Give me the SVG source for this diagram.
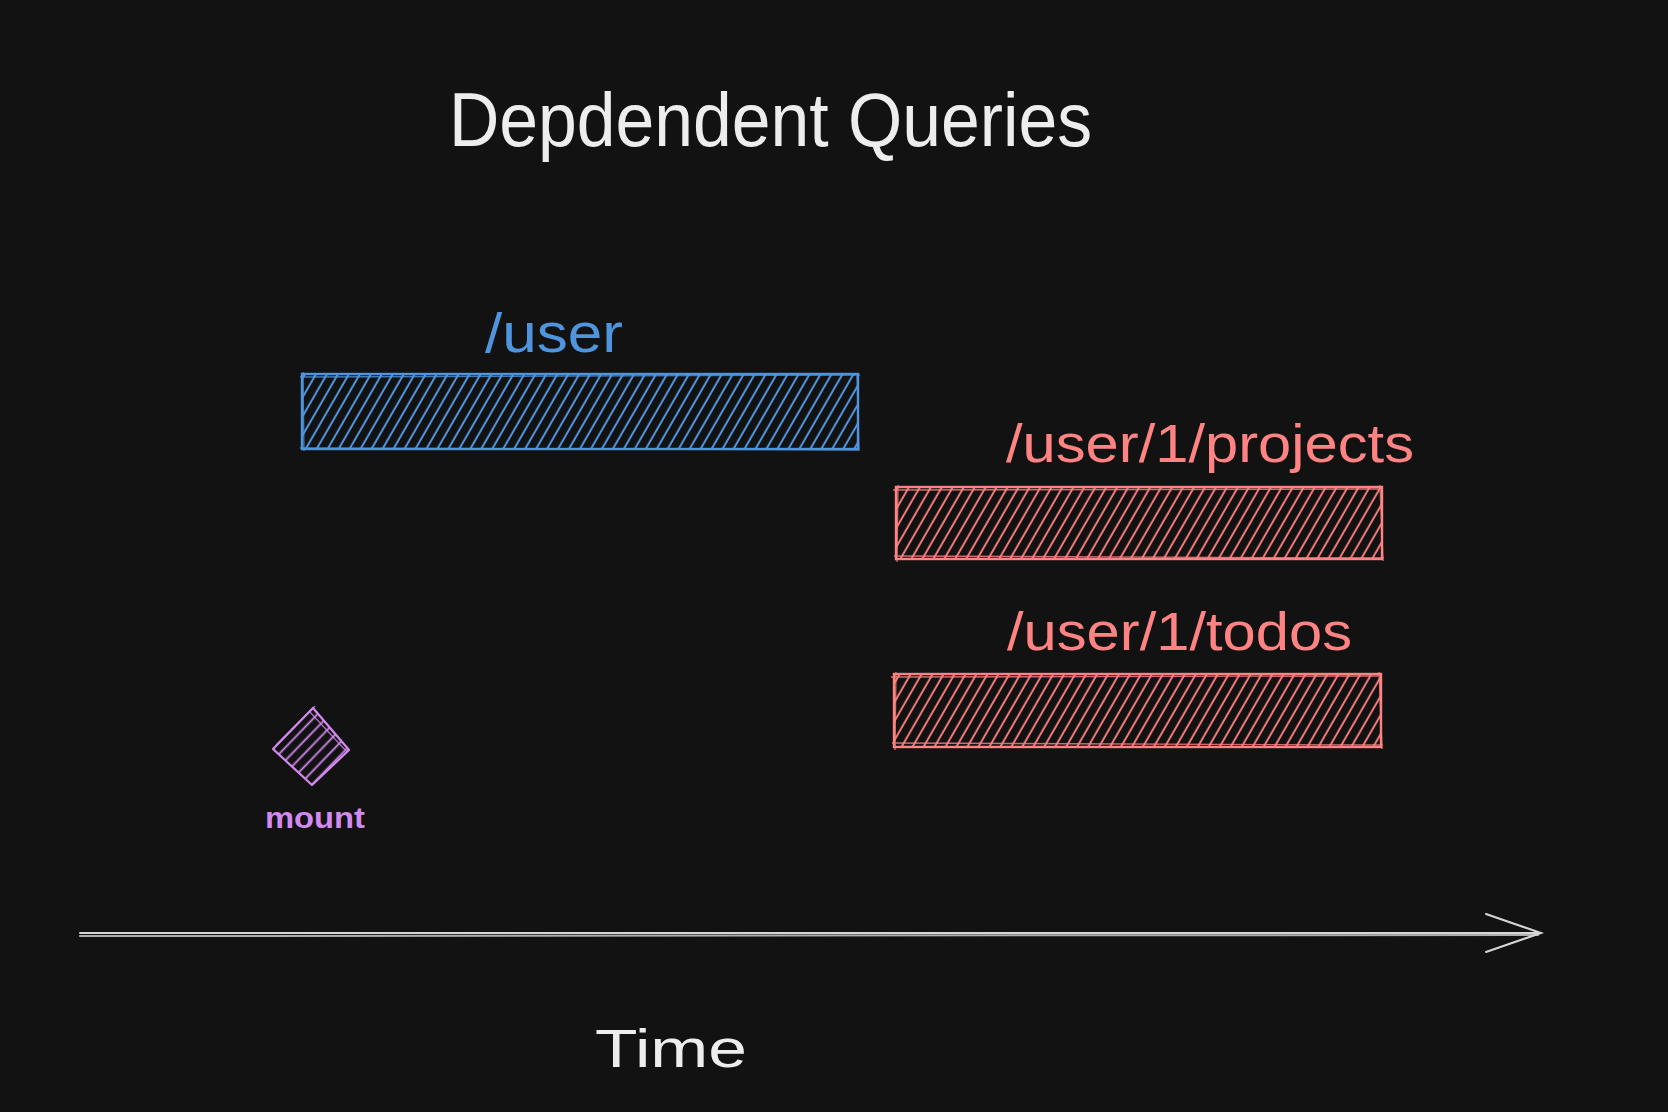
<svg xmlns="http://www.w3.org/2000/svg" width="1668" height="1112" viewBox="0 0 1668 1112">
  <style>
    .txt { font-family: "Liberation Sans", "Open Sans", sans-serif; }
    .title { fill: #ededed; font-size: 76px; }
    .blue-t { fill: #4f95dd; font-size: 56px; }
    .red-t { fill: #ff8383; font-size: 54px; }
    .purple-t { fill: #d38aee; font-size: 29px; font-weight: bold; }
    .time { fill: #ededed; font-size: 54px; }
    .blue-box { fill: url(#hatchBlue); stroke: #4f95dd; stroke-width: 2.4; }
    .red-box { fill: url(#hatchRed); stroke: #ff8383; stroke-width: 2.4; }
    .blue-sk { fill: none; stroke: #4f95dd; stroke-width: 1.3; opacity: 0.8; }
    .red-sk { fill: none; stroke: #ff8383; stroke-width: 1.3; opacity: 0.8; }
    .axis { fill: none; stroke: #d6d6d6; stroke-width: 2; stroke-linecap: round; }
  </style>
  <defs>
    <pattern id="hatchBlue" patternUnits="userSpaceOnUse" width="9.5" height="12" patternTransform="rotate(30)">
      <line x1="4.7" y1="0" x2="4.7" y2="12" stroke="#4f95dd" stroke-width="2"/>
    </pattern>
    <pattern id="hatchRed" patternUnits="userSpaceOnUse" width="9.5" height="12" patternTransform="rotate(30)">
      <line x1="4.7" y1="0" x2="4.7" y2="12" stroke="#f07878" stroke-width="2"/>
    </pattern>
    <pattern id="hatchPurple" patternUnits="userSpaceOnUse" width="9" height="12" patternTransform="rotate(44)">
      <line x1="4.5" y1="0" x2="4.5" y2="12" stroke="#d38aee" stroke-width="1.8"/>
    </pattern>
  </defs>
  <rect width="1668" height="1112" fill="#121212"/>

  <g id="title">
    <text class="txt title" x="449" y="146" textLength="643" lengthAdjust="spacingAndGlyphs">Depdendent Queries</text>
  </g>

  <g id="user">
    <text class="txt blue-t" x="485" y="352" textLength="138" lengthAdjust="spacingAndGlyphs">/user</text>
    <rect class="blue-box" x="302" y="374" width="556" height="75"/>
    <path class="blue-sk" d="M300 377 L860 375 M303 372 L304 451 M300 448 L859 450 M857 373 L859 451"/>
  </g>

  <g id="projects">
    <text class="txt red-t" x="1006" y="462" textLength="408" lengthAdjust="spacingAndGlyphs">/user/1/projects</text>
    <rect class="red-box" x="896" y="487" width="486" height="72"/>
    <path class="red-sk" d="M893 490 L1383 489 M898 485 L897 562 M894 556 L1384 558 M1380 485 L1383 561"/>
  </g>

  <g id="todos">
    <text class="txt red-t" x="1007" y="650" textLength="345" lengthAdjust="spacingAndGlyphs">/user/1/todos</text>
    <rect class="red-box" x="894" y="674" width="487" height="73"/>
    <path class="red-sk" d="M891 677 L1382 676 M896 672 L895 750 M892 743 L1383 745 M1379 672 L1382 749"/>
  </g>

  <g id="mount">
    <polygon points="313,708 349,750 312,785 273,749" fill="url(#hatchPurple)" stroke="#d38aee" stroke-width="2.2" stroke-linejoin="round"/>
    <path d="M309 711 L347 752 M276 745 L315 706" fill="none" stroke="#d38aee" stroke-width="1.2" opacity="0.8"/>
    <text class="txt purple-t" x="265" y="828" textLength="100" lengthAdjust="spacingAndGlyphs">mount</text>
  </g>

  <g id="connectors">
    <path class="axis" d="M80 933 L1541 933"/>
    <path class="axis" d="M80 936 L1538 935" stroke-width="1.4" opacity="0.8"/>
    <path class="axis" d="M1486 914 L1541 933 L1486 952" stroke-width="2.4"/>
  </g>

  <g id="time">
    <text class="txt time" x="595" y="1067" textLength="152" lengthAdjust="spacingAndGlyphs">Time</text>
  </g>
</svg>
